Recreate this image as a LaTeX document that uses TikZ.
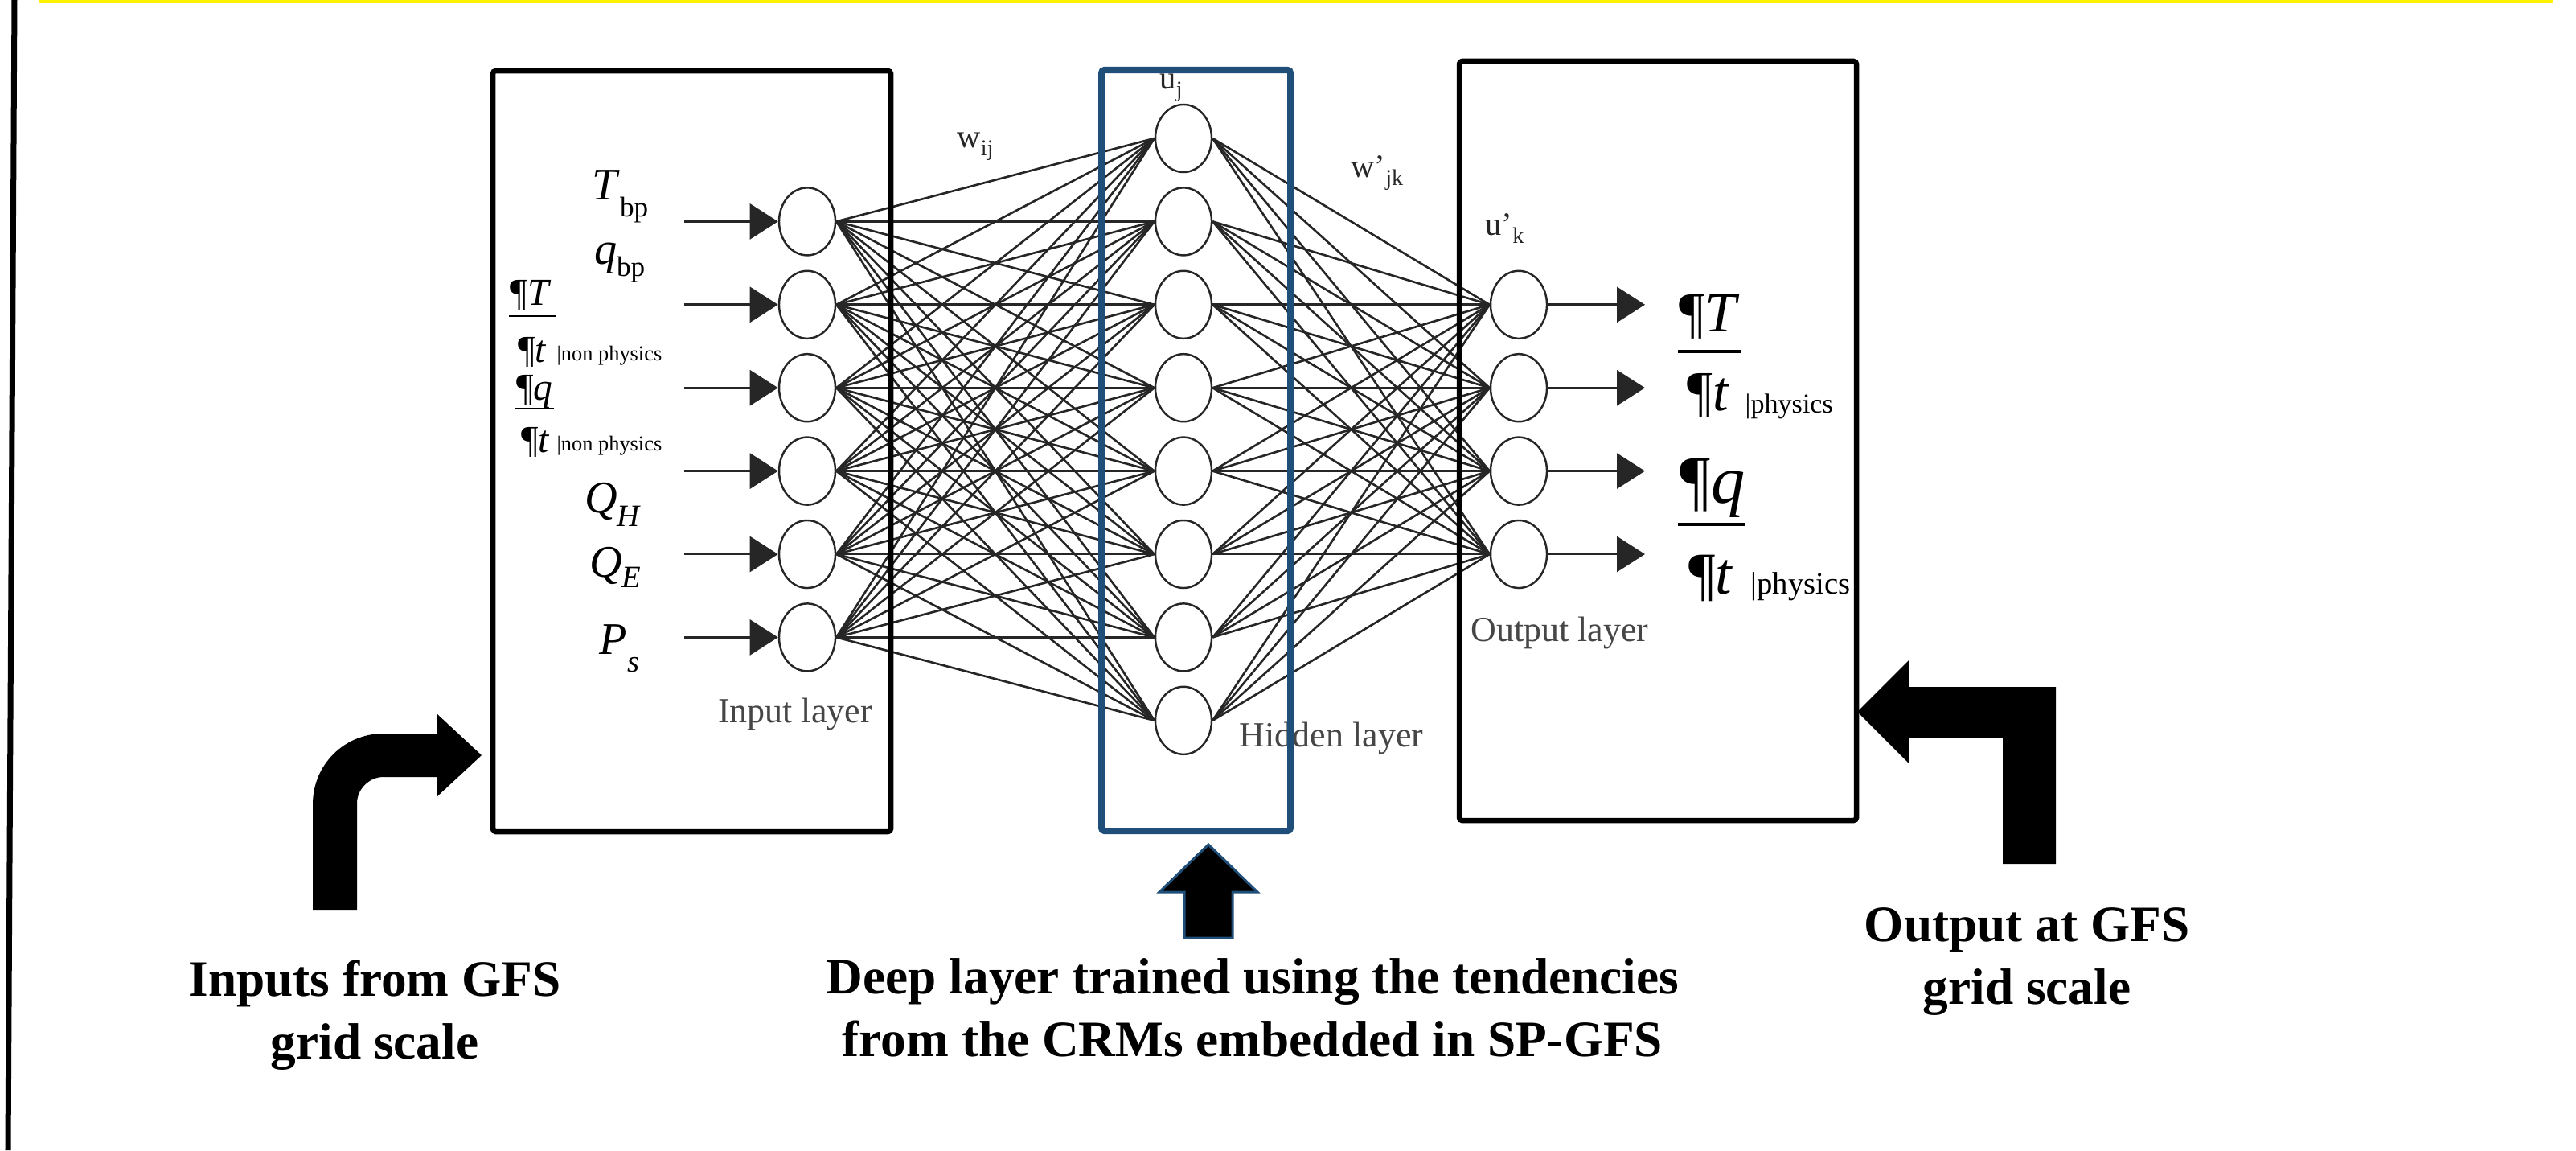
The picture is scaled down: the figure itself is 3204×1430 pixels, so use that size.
\documentclass[tikz,border=0pt]{standalone}
\usepackage{fontspec}
\setmainfont{Liberation Serif}
\usepackage{tikz}
\usetikzlibrary{positioning}
\usetikzlibrary{shapes.geometric}
\usetikzlibrary{arrows.meta}
\definecolor{netgray}{RGB}{38,38,38}
\definecolor{lblgray}{RGB}{70,70,70}
\definecolor{deepblue}{RGB}{31,78,121}
\tikzset{neuron/.style={ellipse,draw=netgray,line width=0.7pt,minimum width=0.7cm,minimum height=0.84cm,inner sep=0pt},
link/.style={netgray,line width=0.75pt},
feed/.style={netgray,line width=0.8pt,-{Triangle[length=0.35cm,width=0.44cm]}},
layerbox/.style={line width=0.065cm,rounded corners=1pt},
varlbl/.style={inner sep=0pt,font=\fontsize{16}{16}\selectfont},
wlbl/.style={inner sep=0pt,anchor=base west,text=netgray,font=\fontsize{11.5}{12}\selectfont},
layername/.style={inner sep=0pt,text=lblgray,font=\fontsize{12.5}{14}\selectfont},
caption/.style={inner sep=0pt,anchor=base,align=center,font=\fontsize{18}{22}\selectfont\bfseries}}
\begin{document}
\begin{tikzpicture}[x=0.01cm,y=-0.01cm]
\useasboundingbox(0,0)rectangle(3204,1430);
\fill[yellow](48,0)rectangle(3175,4);
\draw[line width=0.07cm](18,0)--(10,1430);
\foreach \i in {1,...,6}\node[neuron](in\i)at(1004,{172+103.4*\i}){};
\foreach \j in {1,...,8}\node[neuron](hd\j)at(1472,{172+103.4*(\j-1)}){};
\foreach \k in {1,...,4}\node[neuron](out\k)at(1889,{172+103.4*(\k+1)}){};
\foreach \i in {1,...,6}\coordinate(src\i)at(851,{172+103.4*\i});
\foreach \k in {1,...,4}\coordinate(dst\k)at(2046,{172+103.4*(\k+1)});
\foreach \i in {1,...,6}\foreach \j in {1,...,8}\draw[link](in\i.east)--(hd\j.west);
\foreach \j in {1,...,8}\foreach \k in {1,...,4}\draw[link](hd\j.east)--(out\k.west);
\foreach \i in {1,...,6}\draw[feed](src\i)--(in\i.west);
\foreach \k in {1,...,4}\draw[feed](out\k.east)--(dst\k);
\node[varlbl,anchor=base east](tbp)at(807,248){\textit{T}\raisebox{-6pt}{\fontsize{10}{10}\selectfont bp}};
\node[varlbl,anchor=base east](qbp)at(803,328){\textit{q}\raisebox{-4.5pt}{\fontsize{10}{10}\selectfont bp}};
\node[varlbl,anchor=base,font=\fontsize{13.5}{13.5}\selectfont](dTn)at(660,379){¶\textit{T}};
\draw[line width=0.8pt](633,393)--(691,393);
\node[varlbl,anchor=base,font=\fontsize{13.5}{13.5}\selectfont](dTd)at(662,450){¶\textit{t}};
\node[varlbl,anchor=base west,font=\fontsize{7.5}{8}\selectfont](dTs)at(692,448){\textbar non physics};
\node[varlbl,anchor=base,font=\fontsize{13.5}{13.5}\selectfont](dqn)at(665,497){¶\textit{q}};
\draw[line width=0.8pt](640,508)--(689,508);
\node[varlbl,anchor=base,font=\fontsize{13.5}{13.5}\selectfont](dqd)at(666,562){¶\textit{t}};
\node[varlbl,anchor=base west,font=\fontsize{7.5}{8}\selectfont](dqs)at(692,560){\textbar non physics};
\node[varlbl,anchor=base east](qh)at(798,637){\textit{Q}\raisebox{-5pt}{\fontsize{11}{11}\selectfont\textit{H}}};
\node[varlbl,anchor=base east](qe)at(798,717){\textit{Q}\raisebox{-3.7pt}{\fontsize{11}{11}\selectfont\textit{E}}};
\node[varlbl,anchor=base east](ps)at(796,813){\textit{P}\raisebox{-6.3pt}{\fontsize{11}{11}\selectfont\textit{s}}};
\node[varlbl,anchor=base,font=\fontsize{20}{20}\selectfont](oTn)at(2126,412){¶\textit{T}};
\draw[line width=1.15pt](2087,437)--(2166,437);
\node[varlbl,anchor=base,font=\fontsize{20}{20}\selectfont](oTd)at(2125,510){¶\textit{t}};
\node[varlbl,anchor=base west,font=\fontsize{9.7}{10}\selectfont](oTs)at(2170,513){\textbar physics};
\node[varlbl,anchor=base,font=\fontsize{24}{24}\selectfont](oqn)at(2130,625){¶\textit{q}};
\draw[line width=1.15pt](2087,652)--(2171,652);
\node[varlbl,anchor=base,font=\fontsize{21}{21}\selectfont](oqd)at(2128,738){¶\textit{t}};
\node[varlbl,anchor=base west,font=\fontsize{11}{11}\selectfont](oqs)at(2177,738){\textbar physics};
\node[wlbl](wij)at(1190,183){w\raisebox{-3pt}{\fontsize{8}{8}\selectfont ij}};
\node[wlbl](wjk)at(1680,220){w’\raisebox{-3pt}{\fontsize{8}{8}\selectfont jk}};
\node[wlbl](uj)at(1442,110){u\raisebox{-3pt}{\fontsize{8}{8}\selectfont j}};
\node[wlbl](uk)at(1847,292){u’\raisebox{-3pt}{\fontsize{8}{8}\selectfont k}};
\node[layername](inname)at(989,888){Input layer};
\node[layername](hdname)at(1656,918){Hidden layer};
\node[layername](outname)at(1940,787){Output layer};
\draw[layerbox](613,88)rectangle(1108,1034);
\draw[layerbox,deepblue,line width=0.08cm](1370,87)rectangle(1605,1033);
\draw[layerbox](1815,76)rectangle(2309,1020);
\fill(389,1131)--(389,1000) .. controls (389,951) and (428,912) .. (477,912)--(544,912)--(544,888)--(599,939)--(544,990)--(544,966)--(477,966) .. controls (459,966) and (444,981) .. (444,999)--(444,1131)--cycle;
\fill(2310,885)--(2374,821)--(2374,854)--(2557,854)--(2557,1074)--(2491,1074)--(2491,917)--(2374,917)--(2374,949)--cycle;
\draw[deepblue,fill=black,line width=0.03cm](1503,1050)--(1564,1109)--(1533,1109)--(1533,1166)--(1473,1166)--(1473,1109)--(1442,1109)--cycle;
\node[caption](capin)at(466,1316){Inputs from GFS\\grid scale};
\node[caption](capdeep)at(1558,1313){Deep layer trained using the tendencies\\from the CRMs embedded in SP-GFS};
\node[caption](capout)at(2521,1248){Output at GFS\\grid scale};
\end{tikzpicture}
\end{document}
